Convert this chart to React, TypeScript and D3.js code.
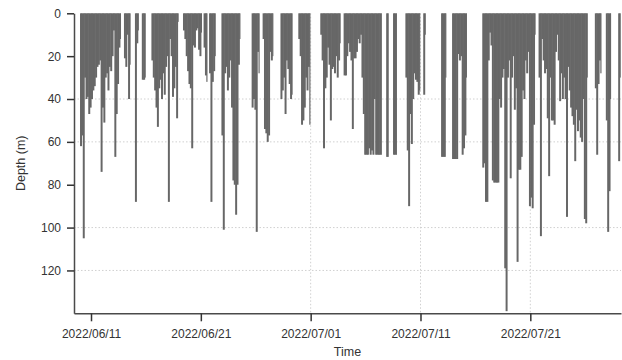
import { useEffect, useRef } from 'react'
import * as d3 from 'd3'

// dive depth (m), one value per 3-hour slot, 0 = no dive recorded
const startDay = '2022/06/10'
const slotHours = 3
const diveDepths: number[][] = [
  [62, 57, 105, 30, 40, 39, 47, 44], // 06/10
  [40, 36, 34, 30, 25, 24, 22, 74],
  [44, 51, 30, 28, 36, 25, 27, 20],
  [8, 67, 47, 33, 16, 12, 0, 0],
  [21, 25, 10, 40, 24, 0, 0, 0],
  [88, 14, 8, 0, 0, 31, 31, 30], // 06/15
  [0, 0, 0, 0, 22, 30, 36, 44],
  [53, 35, 31, 40, 28, 38, 25, 20],
  [88, 12, 20, 39, 35, 25, 49, 4],
  [0, 0, 0, 8, 12, 20, 27, 33],
  [35, 63, 15, 16, 8, 7, 17, 20], // 06/20
  [9, 0, 16, 29, 32, 0, 28, 88],
  [32, 27, 20, 0, 0, 0, 0, 57],
  [101, 28, 25, 36, 30, 22, 44, 78],
  [80, 94, 80, 24, 12, 0, 0, 0],
  [0, 0, 0, 0, 0, 44, 40, 45], // 06/25
  [102, 18, 28, 0, 0, 12, 54, 56],
  [60, 57, 18, 22, 20, 0, 0, 0],
  [0, 0, 40, 36, 30, 47, 22, 26],
  [33, 40, 38, 0, 0, 0, 0, 12],
  [20, 52, 50, 44, 30, 36, 25, 52], // 06/30
  [0, 0, 0, 0, 0, 0, 0, 10],
  [22, 63, 35, 30, 16, 24, 50, 26],
  [25, 28, 20, 30, 22, 14, 0, 0],
  [29, 29, 20, 14, 18, 22, 54, 21],
  [21, 18, 12, 14, 10, 30, 47, 66], // 07/05
  [66, 66, 63, 66, 64, 66, 40, 66],
  [66, 66, 66, 66, 0, 0, 0, 67],
  [67, 0, 0, 0, 66, 66, 66, 0],
  [0, 0, 0, 0, 0, 30, 64, 90],
  [47, 61, 40, 28, 31, 32, 38, 36], // 07/10
  [0, 0, 38, 10, 0, 0, 0, 0],
  [0, 0, 0, 0, 0, 0, 0, 67],
  [67, 67, 30, 0, 0, 0, 0, 68],
  [68, 68, 68, 19, 22, 20, 66, 63],
  [57, 30, 0, 0, 0, 0, 0, 0], // 07/15
  [0, 0, 0, 0, 0, 72, 70, 88],
  [88, 22, 9, 15, 78, 79, 79, 79],
  [79, 40, 44, 30, 26, 119, 139, 30],
  [22, 77, 30, 20, 45, 35, 116, 73],
  [73, 67, 36, 40, 22, 28, 18, 90], // 07/20
  [86, 91, 52, 10, 0, 0, 30, 104],
  [12, 22, 28, 26, 49, 76, 30, 50],
  [50, 52, 18, 10, 22, 41, 28, 40],
  [30, 40, 95, 25, 36, 44, 48, 52],
  [69, 45, 55, 50, 58, 60, 40, 96], // 07/25
  [98, 30, 0, 0, 0, 0, 0, 35],
  [66, 33, 22, 28, 0, 0, 0, 50],
  [102, 83, 40, 0, 0, 0, 0, 0],
  [69, 30], // 07/29
]

const timeTicks = ['2022/06/11', '2022/06/21', '2022/07/01', '2022/07/11', '2022/07/21']
const depthTicks = [0, 20, 40, 60, 80, 100, 120]
// only these grid lines show in the original
const gridDays = ['2022/07/01', '2022/07/11', '2022/07/21']
const gridDepths = [40, 60, 100, 120]
const timeExtent = ['2022/06/09 10:50', '2022/07/29 06:10']
const depthMax = 140

export default function App() {
  const svgRef = useRef<SVGSVGElement>(null)

  useEffect(() => {
    if (!svgRef.current) return
    const svg = d3.select(svgRef.current)
    svg.selectAll('*').remove()

    const width = 622
    const height = 360
    const margin = { top: 13.3, right: 1, bottom: 46.7, left: 74 }
    const font = '"Liberation Sans", Arial, sans-serif'

    const parseDay = d3.timeParse('%Y/%m/%d')
    const parseTime = d3.timeParse('%Y/%m/%d %H:%M')
    const start = parseDay(startDay) as Date

    const x = d3
      .scaleTime()
      .domain(timeExtent.map((t) => parseTime(t) as Date))
      .range([margin.left, width - margin.right])
    const y = d3
      .scaleLinear()
      .domain([0, depthMax])
      .range([margin.top, height - margin.bottom])

    // flatten, remembering whether the next slot also has a dive (so blocks render solid)
    const flat = diveDepths.flat()
    const dives: { t0: Date; t1: Date; depth: number; joined: boolean }[] = []
    flat.forEach((depth, k) => {
      if (!depth) return
      const t0 = d3.timeHour.offset(start, k * slotHours)
      dives.push({ t0, t1: d3.timeHour.offset(t0, slotHours), depth, joined: !!flat[k + 1] })
    })

    // grid
    const grid = svg.append('g').attr('stroke', '#d0d0d0').attr('stroke-dasharray', '1.5,2')
    grid
      .selectAll('.hg')
      .data(gridDepths)
      .enter()
      .append('line')
      .attr('x1', margin.left)
      .attr('x2', width - margin.right)
      .attr('y1', (d) => y(d))
      .attr('y2', (d) => y(d))
    grid
      .selectAll('.vg')
      .data(gridDays)
      .enter()
      .append('line')
      .attr('x1', (d) => x(parseDay(d) as Date))
      .attr('x2', (d) => x(parseDay(d) as Date))
      .attr('y1', y(0))
      .attr('y2', y(depthMax))

    // dives
    svg
      .append('g')
      .selectAll('rect')
      .data(dives)
      .enter()
      .append('rect')
      .attr('x', (d) => x(d.t0))
      .attr('width', (d) => x(d.t1) - x(d.t0) + (d.joined ? 0.6 : -0.2))
      .attr('y', y(0))
      .attr('height', (d) => y(d.depth) - y(0))
      .attr('fill', '#676767')

    // axes
    const xAxis = svg
      .append('g')
      .attr('transform', `translate(0,${y(depthMax)})`)
      .call(
        d3
          .axisBottom(x)
          .tickValues(timeTicks.map((d) => parseDay(d) as Date))
          .tickFormat((d) => d3.timeFormat('%Y/%m/%d')(d as Date))
          .tickSize(8)
          .tickSizeOuter(0)
          .tickPadding(8)
      )
    const yAxis = svg
      .append('g')
      .attr('transform', `translate(${margin.left},0)`)
      .call(d3.axisLeft(y).tickValues(depthTicks).tickSize(7).tickSizeOuter(0).tickPadding(6))

    for (const ax of [xAxis, yAxis]) {
      ax.attr('font-family', font).attr('font-size', 12)
      ax.select('.domain').attr('stroke', '#4a4a4a').attr('stroke-width', 1.5)
      ax.selectAll('.tick line').attr('stroke', '#333').attr('stroke-width', 1.5)
      ax.selectAll('.tick text').attr('fill', '#333')
    }

    svg
      .append('text')
      .attr('x', (margin.left + width - margin.right) / 2)
      .attr('y', 356)
      .attr('text-anchor', 'middle')
      .attr('font-family', font)
      .attr('font-size', 12.5)
      .attr('fill', '#333')
      .text('Time')

    svg
      .append('text')
      .attr('transform', `translate(24.5,${(y(0) + y(depthMax)) / 2}) rotate(-90)`)
      .attr('text-anchor', 'middle')
      .attr('font-family', font)
      .attr('font-size', 12.5)
      .attr('fill', '#333')
      .text('Depth (m)')
  }, [])

  return (
    <svg
      ref={svgRef}
      width={622}
      height={360}
      style={{ position: 'absolute', left: 0, top: 0, background: '#fff' }}
    />
  )
}
